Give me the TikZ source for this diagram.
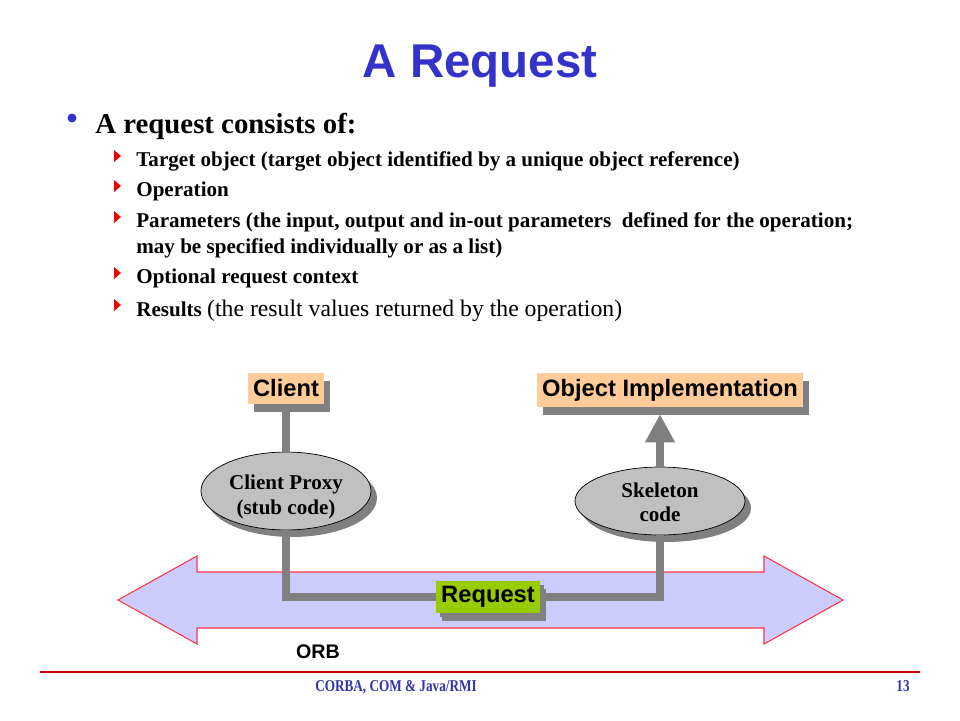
\documentclass[tikz,border=0pt]{standalone}
\usepackage{fontspec}
\setmainfont{Liberation Serif}
\newfontfamily\arialfont{Liberation Sans}
\newfontfamily\footfont[FakeStretch=0.8]{Liberation Serif}
\usepackage{tikz}
\usetikzlibrary{arrows.meta, positioning, shapes.geometric, shadows, calc}
\definecolor{titleblue}{HTML}{3333CC}
\definecolor{footblue}{HTML}{3333AA}
\definecolor{markred}{HTML}{EE0000}
\definecolor{peach}{HTML}{FFCC99}
\definecolor{reqgreen}{HTML}{99CC00}
\definecolor{orbfill}{HTML}{CCCCFF}
\definecolor{orbred}{HTML}{FF3344}
\definecolor{linegray}{HTML}{808080}
\definecolor{ellfill}{HTML}{C0C0C0}
\definecolor{footred}{HTML}{CC0000}
\tikzset{
    redtri/.pic = {
    \fill[markred] (0,-6) -- (7,0) -- (0,6) -- cycle;
    },
    item/.style={anchor=base west, inner sep=0pt, font=\bfseries\fontsize{12}{14}\selectfont},
    tag/.style={fill=peach, inner xsep=3pt, minimum height=0.62cm,
      font=\arialfont\bfseries\fontsize{13.5}{16}\selectfont,
      drop shadow={shadow xshift=0.12cm, shadow yshift=-0.16cm, fill=linegray, opacity=1}},
    stub/.style={ellipse, draw=black, fill=ellfill, inner sep=0pt, align=center,
      minimum width=3.4cm, font=\bfseries\fontsize{12}{13.8}\selectfont,
      drop shadow={shadow xshift=0.12cm, shadow yshift=-0.14cm, fill=linegray, opacity=1}},
    wire/.style={draw=linegray, line width=0.16cm},
    foot/.style={anchor=base, text=footblue, font=\footfont\bfseries\fontsize{9.4}{11}\selectfont},
}
\begin{document}
\begin{tikzpicture}[x=0.02cm, y=-0.02cm]
    \fill[white] (0,0) rectangle (960,720);
    \useasboundingbox (0,0) rectangle (960,720);

    % title and list
    \node[anchor=base, text=titleblue, font=\arialfont\bfseries\fontsize{27}{30}\selectfont] (title) at (480,77) {A Request};

    \fill[titleblue] (72,118) circle (4.5);
    \node[anchor=base west, inner sep=0pt, font=\bfseries\fontsize{16.4}{19}\selectfont] (head) at (95,133) {A request consists of:};

    \path (114,156) pic {redtri};
    \node[item] (target) at (136,166) {Target object (target object identified by a unique object reference)};
    \path (114,186) pic {redtri};
    \node[item] (oper) at (136,196) {Operation};
    \path (114,217) pic {redtri};
    \node[item] (param) at (136,227) {Parameters (the input, output and in-out parameters\ \ defined for the operation;};
    \node[item] (param2) at (136,253) {may be specified individually or as a list)};
    \path (114,273) pic {redtri};
    \node[item] (ctx) at (136,283) {Optional request context};
    \path (114,305) pic {redtri};
    \node[item] (res) at (136,316) {Results {\mdseries\fontsize{13.5}{16}\selectfont(the result values returned by the operation)}};

    % ORB
    \filldraw[fill=orbfill, draw=orbred, line width=0.6pt] (118,600) -- (197,556) -- (197,572) -- (764,572)
      -- (764,556) -- (843,600) -- (764,644) -- (764,628) -- (197,628) -- (197,644) -- cycle;
    \node[font=\arialfont\bfseries\fontsize{11.2}{13}\selectfont] (orb) at (318,652) {ORB};

    % client and server side
    \node[tag, minimum width=1.5cm] (client) at (286,388) {Client};
    \node[tag, minimum width=5.3cm] (impl) at (670,390) {Object Implementation};
    \node[stub, minimum height=1.04cm] (proxy) at (286,491) {\rule{0pt}{15pt}Client Proxy\\(stub code)};
    \node[stub, minimum height=1.36cm] (skel) at (660,501) {\rule{0pt}{10pt}Skeleton\\code};

    \draw[wire] (client.south) -- (proxy.north);
    \draw[wire, -{Triangle[width=0.56cm, length=0.56cm]}] (skel.north) -- ([yshift=-0.14cm]skel.north |- impl.south);

    \node[tag, fill=reqgreen, minimum width=2.08cm, minimum height=0.64cm,
      drop shadow={shadow xshift=0.08cm, shadow yshift=-0.08cm, fill=linegray, opacity=1}] (request) at (488,597) {Request};
    \draw[wire] (proxy.south) |- (request.west);
    \draw[wire] (request.east) -| (skel.south);

    % footer
    \draw[footred, line width=0.85pt] (40,672) -- (920,672);
    \node[foot] (course) at (396,691) {CORBA, COM \& Java/RMI};
    \node[foot] (page) at (903,691) {13};
\end{tikzpicture}
\end{document}
